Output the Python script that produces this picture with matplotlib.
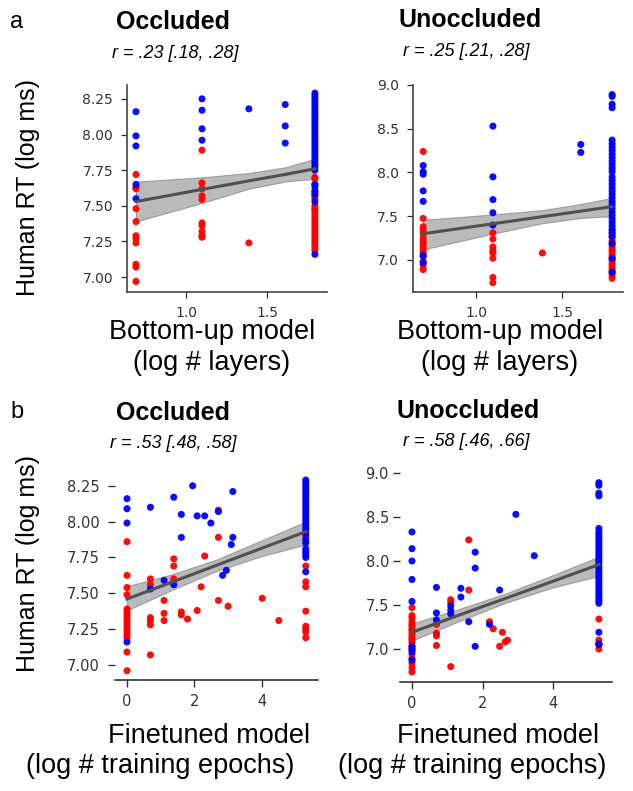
import numpy as np
import matplotlib
matplotlib.use('Agg')
import matplotlib.pyplot as plt
from matplotlib import font_manager

# ---------------- data ----------------
# a: bottom-up model, x = number of layers (plotted as log)
occ_bu_red_layers = [2]*11 + [3]*10 + [4] + [6]*23
occ_bu_red_rt = [7.72, 7.63, 7.62, 7.48, 7.39, 7.29, 7.27, 7.24, 7.09, 7.07, 6.97,
                 7.89, 7.66, 7.62, 7.57, 7.545, 7.38, 7.36, 7.32, 7.29, 7.28,
                 7.24,
                 7.70, 7.69, 7.65, 7.60, 7.57, 7.55, 7.50, 7.48, 7.47, 7.45, 7.43, 7.41,
                 7.39, 7.37, 7.35, 7.33, 7.31, 7.29, 7.27, 7.25, 7.23, 7.21, 7.19]
occ_bu_blue_layers = [2]*5 + [3]*4 + [4] + [5]*3 + [6]*34
occ_bu_blue_rt = [8.16, 7.99, 7.92, 7.65, 7.55,
                  8.25, 8.17, 8.04, 7.96,
                  8.18,
                  8.21, 8.06, 7.94,
                  8.29, 8.27, 8.25, 8.23, 8.21, 8.19, 8.17, 8.15, 8.13, 8.11, 8.09, 8.07,
                  8.05, 8.03, 8.01, 7.99, 7.97, 7.95, 7.93, 7.91, 7.89, 7.87, 7.85, 7.83,
                  7.81, 7.79, 7.77, 7.75, 7.65, 7.63, 7.60, 7.58, 7.53, 7.16]
occ_bu_fit_layers = [2, 3, 4, 5, 6]
occ_bu_fit = [7.53, 7.615, 7.675, 7.72, 7.76]
occ_bu_lo = [7.39, 7.52, 7.62, 7.67, 7.69]
occ_bu_hi = [7.67, 7.70, 7.73, 7.77, 7.83]

unocc_bu_red_layers = [2]*15 + [3]*8 + [4] + [6]*18
unocc_bu_red_rt = [8.24, 7.475, 7.38, 7.34, 7.30, 7.25, 7.21, 7.19, 7.15, 7.11, 7.08, 7.04,
                   6.98, 6.94, 6.89,
                   7.31, 7.24, 7.15, 7.11, 7.08, 7.02, 6.80, 6.74,
                   7.08,
                   7.34, 7.30, 7.26, 7.22, 7.18, 7.15, 7.12, 7.09, 7.06, 7.03, 7.00, 6.97,
                   6.94, 6.91, 6.88, 6.85, 6.82, 6.79]
unocc_bu_blue_layers = [2]*7 + [3]*5 + [5]*2 + [6]*35
unocc_bu_blue_rt = [8.08, 8.01, 7.98, 7.79, 7.67, 7.05, 6.97,
                    8.53, 7.95, 7.69, 7.54, 7.40,
                    8.32, 8.23,
                    8.89, 8.87, 8.78, 8.74, 8.37, 8.33, 8.29, 8.25, 8.21, 8.17, 8.13, 8.09,
                    8.05, 8.01, 7.95, 7.91, 7.87, 7.83, 7.79, 7.75, 7.71, 7.67, 7.63, 7.59,
                    7.55, 7.51, 7.47, 7.43, 7.39, 7.35, 7.31, 7.27, 7.19, 7.02, 6.86]
unocc_bu_fit_layers = [2, 3, 4, 5, 6]
unocc_bu_fit = [7.30, 7.414, 7.495, 7.558, 7.61]
unocc_bu_lo = [7.12, 7.30, 7.42, 7.48, 7.50]
unocc_bu_hi = [7.46, 7.52, 7.57, 7.64, 7.71]

# b: finetuned model, x = number of training epochs (plotted as log)
occ_ft_red_epochs = ([1]*17 + [2]*6 + [3]*3 + [4]*3 + [5]*2 + [6, 8, 9, 10] + [15]*3
                     + [20, 55, 90] + [200]*9)
occ_ft_red_rt = [7.86, 7.625, 7.54, 7.49, 7.39, 7.37, 7.35, 7.33, 7.31, 7.29, 7.27, 7.25,
                 7.23, 7.21, 7.19, 7.09, 6.96,
                 7.60, 7.56, 7.33, 7.31, 7.28, 7.07,
                 7.45, 7.36, 7.31,
                 7.74, 7.69, 7.60,
                 7.37, 7.35,
                 7.32, 7.38, 7.545, 7.76,
                 8.08, 7.89, 7.45,
                 7.41, 7.465, 7.31,
                 7.89, 7.69, 7.58, 7.545, 7.375, 7.27, 7.25, 7.23, 7.19]
occ_ft_blue_epochs = ([1]*4 + [2]*2 + [3] + [4]*2 + [5]*2 + [7, 8, 10, 12, 15, 17, 19]
                      + [23]*2 + [22] + [200]*27)
occ_ft_blue_rt = [8.16, 8.09, 7.99, 7.16,
                  8.10, 7.53,
                  7.59,
                  8.17, 7.56,
                  8.05, 7.89,
                  8.25, 8.04, 8.04, 7.99, 8.07, 7.625, 7.66,
                  8.21, 7.89, 7.84,
                  8.29, 8.27, 8.25, 8.23, 8.21, 8.19, 8.17, 8.15, 8.13, 8.11, 8.09, 8.07,
                  8.05, 8.03, 8.01, 7.99, 7.97, 7.95, 7.93, 7.91, 7.87, 7.85, 7.81, 7.79,
                  7.77, 7.75, 7.65]
occ_ft_fit_x = [0, 1.3, 2.65, 4.0, 5.3]
occ_ft_fit = [7.46, 7.575, 7.695, 7.815, 7.93]
occ_ft_lo = [7.38, 7.52, 7.655, 7.76, 7.84]
occ_ft_hi = [7.55, 7.63, 7.735, 7.87, 8.00]

unocc_ft_red_epochs = ([1]*20 + [2]*4 + [3]*3 + [5]*2 + [9, 10, 12, 13, 14, 15]
                       + [200]*4)
unocc_ft_red_rt = [7.47, 7.38, 7.35, 7.31, 7.28, 7.26, 7.23, 7.21, 7.18, 7.15, 7.12, 7.10,
                   7.07, 7.03, 6.99, 6.94, 6.89, 6.84, 6.79, 6.74,
                   7.28, 7.18, 7.15, 7.04,
                   7.56, 7.53, 6.80,
                   8.24, 7.67,
                   7.31, 7.23, 7.03, 7.19, 7.08, 7.10,
                   7.34, 7.10, 7.05, 7.00]
unocc_ft_blue_epochs = ([1]*9 + [2]*3 + [3]*3 + [4]*2 + [5] + [6]*3 + [9, 12, 19, 32]
                        + [200]*36)
unocc_ft_blue_rt = [8.33, 8.14, 8.00, 7.79, 7.54, 7.03, 7.00, 6.97, 6.875,
                    7.70, 7.41, 7.33,
                    7.49, 7.44, 7.40,
                    7.69, 7.59,
                    7.31,
                    8.10, 7.92, 7.03,
                    7.28, 7.67, 8.53, 8.06,
                    8.89, 8.86, 8.77, 8.74, 8.37, 8.33, 8.30, 8.27, 8.24, 8.21, 8.18, 8.15,
                    8.12, 8.09, 8.06, 8.03, 8.00, 7.97, 7.94, 7.91, 7.88, 7.85, 7.82, 7.79,
                    7.76, 7.73, 7.70, 7.67, 7.64, 7.61, 7.58, 7.55, 7.52, 7.19, 7.06, 7.05]
unocc_ft_fit_x = [0, 1.3, 2.65, 4.0, 5.3]
unocc_ft_fit = [7.19, 7.38, 7.575, 7.77, 7.96]
unocc_ft_lo = [7.095, 7.31, 7.525, 7.70, 7.83]
unocc_ft_hi = [7.29, 7.45, 7.63, 7.84, 8.05]

titles = ['Occluded', 'Unoccluded']
r_texts = ['r = .23 [.18, .28]', 'r = .25 [.21, .28]',
           'r = .53 [.48, .58]', 'r = .58 [.46, .66]']

# ---------------- fonts ----------------
def have(name):
    try:
        font_manager.findfont(name, fallback_to_default=False)
        return True
    except Exception:
        return False

narrow = 'Liberation Sans Narrow' if have('Liberation Sans Narrow') else 'Liberation Sans'
sans = 'Liberation Sans'
plt.rcParams['font.family'] = 'DejaVu Sans'

W, H = 633, 791
fig = plt.figure(figsize=(W / 100, H / 100), dpi=100)


def add_ax(l, t, r, b):
    return fig.add_axes([l / W, 1 - b / H, (r - l) / W, (b - t) / H])


def ftext(x, y, s, **kw):
    fig.text(x / W, 1 - y / H, s, ha='center', va='center', **kw)


def draw(ax, rx, ry, bx, by, fx, fy, lo, hi):
    ax.fill_between(fx, lo, hi, color='#8c8c8c', alpha=0.6, lw=0.8,
                    edgecolor='#777777', zorder=2)
    ax.scatter(rx, ry, s=26, color='#ff0000', edgecolors='none', alpha=0.95, zorder=3)
    ax.scatter(bx, by, s=26, color='#0000ff', edgecolors='none', alpha=0.95, zorder=4)
    ax.plot(fx, fy, color='#505050', lw=2.2, zorder=5)
    for s in ['top', 'right']:
        ax.spines[s].set_visible(False)


# ---- a: bottom-up model ----
ax1 = add_ax(127, 85, 327, 292)
draw(ax1, np.log(occ_bu_red_layers), occ_bu_red_rt,
     np.log(occ_bu_blue_layers), occ_bu_blue_rt,
     np.log(occ_bu_fit_layers), occ_bu_fit, occ_bu_lo, occ_bu_hi)
ax1.set_xlim(0.638, 1.866)
ax1.set_ylim(6.896, 8.347)
ax1.set_yticks([7.0, 7.25, 7.5, 7.75, 8.0, 8.25])
ax1.set_yticklabels(['%.2f' % v for v in [7.0, 7.25, 7.5, 7.75, 8.0, 8.25]])

ax2 = add_ax(413, 85, 623, 292)
draw(ax2, np.log(unocc_bu_red_layers), unocc_bu_red_rt,
     np.log(unocc_bu_blue_layers), unocc_bu_blue_rt,
     np.log(unocc_bu_fit_layers), unocc_bu_fit, unocc_bu_lo, unocc_bu_hi)
ax2.set_xlim(0.634, 1.855)
ax2.set_ylim(6.634, 9.0)
ax2.set_yticks([7.0, 7.5, 8.0, 8.5, 9.0])

for ax in (ax1, ax2):
    ax.set_xticks([1.0, 1.5])
    ax.set_xticklabels(['1.0', '1.5'])
    for s in ['left', 'bottom']:
        ax.spines[s].set_color('#444444')
        ax.spines[s].set_linewidth(1.2)
    ax.tick_params(labelsize=10, colors='#333333', length=4, width=0.9)
    ax.tick_params(axis='y', pad=6)
    ax.tick_params(axis='x', pad=6)

# ---- b: finetuned model ----
ax3 = add_ax(115, 470, 318, 680)
draw(ax3, np.log(occ_ft_red_epochs), occ_ft_red_rt,
     np.log(occ_ft_blue_epochs), occ_ft_blue_rt,
     occ_ft_fit_x, occ_ft_fit, occ_ft_lo, occ_ft_hi)
ax3.set_xlim(-0.356, 5.66)
ax3.set_ylim(6.895, 8.36)
ax3.set_yticks([7.0, 7.25, 7.5, 7.75, 8.0, 8.25])
ax3.set_yticklabels(['%.2f' % v for v in [7.0, 7.25, 7.5, 7.75, 8.0, 8.25]])

ax4 = add_ax(400, 470, 612, 682)
draw(ax4, np.log(unocc_ft_red_epochs), unocc_ft_red_rt,
     np.log(unocc_ft_blue_epochs), unocc_ft_blue_rt,
     unocc_ft_fit_x, unocc_ft_fit, unocc_ft_lo, unocc_ft_hi)
ax4.set_xlim(-0.34, 5.67)
ax4.set_ylim(6.625, 9.034)
ax4.set_yticks([7.0, 7.5, 8.0, 8.5, 9.0])

for ax, ypad in ((ax3, 6), (ax4, 3)):
    ax.set_xticks([0, 2, 4])
    ax.spines['left'].set_visible(False)
    ax.spines['bottom'].set_color('#222222')
    ax.spines['bottom'].set_linewidth(1.1)
    ax.tick_params(axis='y', labelsize=10.5, colors='#333333', length=5, width=1, pad=ypad)
    ax.tick_params(axis='x', labelsize=10.5, colors='#333333', length=5, width=1, pad=5)

# ---------------- text ----------------
ftext(17, 22, 'a', fontsize=17, family=sans)
ftext(17, 412, 'b', fontsize=17, family=sans)
ftext(173, 22, titles[0], fontsize=18, fontweight='bold', family=narrow)
ftext(470, 20, titles[1], fontsize=18, fontweight='bold', family=narrow)
ftext(175, 53, r_texts[0], fontsize=13, style='italic', family=narrow)
ftext(466, 52, r_texts[1], fontsize=13, style='italic', family=narrow)
ftext(173, 413, titles[0], fontsize=18, fontweight='bold', family=narrow)
ftext(468, 411, titles[1], fontsize=18, fontweight='bold', family=narrow)
ftext(173, 443, r_texts[2], fontsize=13, style='italic', family=narrow)
ftext(466, 441, r_texts[3], fontsize=13, style='italic', family=narrow)

ftext(28, 188, 'Human RT (log ms)', fontsize=18, rotation=90, family=sans)
ftext(28, 563, 'Human RT (log ms)', fontsize=18, rotation=90, family=sans)

ftext(212, 332, 'Bottom-up model', fontsize=19.5, family=sans)
ftext(212, 363, '(log # layers)', fontsize=19.5, family=sans)
ftext(500, 332, 'Bottom-up model', fontsize=19.5, family=sans)
ftext(500, 363, '(log # layers)', fontsize=19.5, family=sans)

ftext(209, 736, 'Finetuned model', fontsize=19.5, family=sans)
ftext(160, 766, '(log # training epochs)', fontsize=19.5, family=sans)
ftext(498, 736, 'Finetuned model', fontsize=19.5, family=sans)
ftext(472, 766, '(log # training epochs)', fontsize=19.5, family=sans)

fig.savefig('out.png', dpi=100)
